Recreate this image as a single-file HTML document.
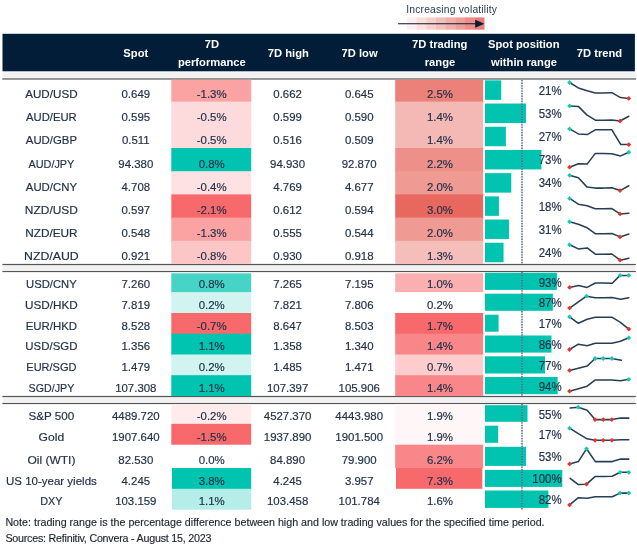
<!DOCTYPE html>
<html lang="en">
<head>
<meta charset="utf-8">
<title>FX 7D performance table</title>
<style>
html,body{margin:0;padding:0;background:#fff;}
body{width:637px;height:546px;overflow:hidden;}
svg{display:block;}
text{font-family:"Liberation Sans",sans-serif;}
.b{font-size:11.8px;fill:#22324a;stroke:#22324a;stroke-width:0.18px;}
.h{font-size:11.2px;font-weight:bold;fill:#fff;}
.lg{font-size:10.3px;fill:#2a3a4e;}
.f{font-size:10.7px;fill:#1c2430;stroke:#1c2430;stroke-width:0.15px;}
</style>
</head>
<body>
<svg width="637" height="546" viewBox="0 0 637 546">
<text x="406.20" y="12.90" text-anchor="start" class="lg" textLength="90.8" lengthAdjust="spacing">Increasing volatility</text>
<rect x="407.00" y="17.40" width="9.95" height="12.30" fill="#fdefef"/>
<rect x="416.65" y="17.40" width="9.95" height="12.30" fill="#fadfdd"/>
<rect x="426.30" y="17.40" width="9.95" height="12.30" fill="#f8cfcc"/>
<rect x="435.95" y="17.40" width="9.95" height="12.30" fill="#f6bebb"/>
<rect x="445.60" y="17.40" width="9.95" height="12.30" fill="#f3aeaa"/>
<rect x="455.25" y="17.40" width="9.95" height="12.30" fill="#f19e98"/>
<rect x="464.90" y="17.40" width="9.95" height="12.30" fill="#ee8d87"/>
<rect x="474.55" y="17.40" width="9.95" height="12.30" fill="#ec7d76"/>
<line x1="398" y1="23.7" x2="477" y2="23.7" stroke="#011d38" stroke-width="1.1"/>
<polygon points="475.2,19.7 484.3,23.7 475.2,27.8" fill="#011d38"/>
<rect x="2.50" y="33.80" width="632.40" height="37.50" fill="#011d38"/>
<rect x="2.50" y="72.30" width="633.10" height="5.30" fill="#f1f1f1"/>
<rect x="2.30" y="78.05" width="633.90" height="1.80" fill="#8a8a8a"/>
<text x="135.80" y="57.10" text-anchor="middle" class="h">Spot</text>
<text x="212.00" y="48.40" text-anchor="middle" class="h">7D</text>
<text x="211.80" y="66.10" text-anchor="middle" class="h">performance</text>
<text x="288.30" y="57.10" text-anchor="middle" class="h">7D high</text>
<text x="359.60" y="57.10" text-anchor="middle" class="h">7D low</text>
<text x="439.70" y="48.40" text-anchor="middle" class="h">7D trading</text>
<text x="440.00" y="66.10" text-anchor="middle" class="h">range</text>
<text x="523.80" y="48.40" text-anchor="middle" class="h">Spot position</text>
<text x="524.00" y="66.10" text-anchor="middle" class="h">within range</text>
<text x="599.50" y="57.10" text-anchor="middle" class="h">7D trend</text>
<rect x="2.60" y="265.10" width="632.40" height="5.00" fill="#f2f2f2"/>
<rect x="2.40" y="263.90" width="633.40" height="1.20" fill="#555555"/>
<rect x="2.40" y="270.90" width="633.40" height="1.20" fill="#555555"/>
<rect x="2.60" y="397.10" width="632.40" height="5.00" fill="#f2f2f2"/>
<rect x="2.40" y="395.90" width="633.40" height="1.20" fill="#555555"/>
<rect x="2.40" y="402.90" width="633.40" height="1.20" fill="#555555"/>
<rect x="171.30" y="79.80" width="79.90" height="22.80" fill="#fba2a3"/>
<rect x="395.20" y="79.80" width="88.00" height="22.80" fill="#ec817a"/>
<rect x="485.00" y="80.35" width="16.23" height="19.50" fill="#00c4b0"/>
<text transform="translate(51.40 98.00) scale(0.987 1)" text-anchor="middle" class="b">AUD/USD</text>
<text transform="translate(135.80 98.00) scale(0.97 1)" text-anchor="middle" class="b">0.649</text>
<text transform="translate(211.70 98.00) scale(0.97 1)" text-anchor="middle" class="b">-1.3%</text>
<text transform="translate(287.60 98.00) scale(0.97 1)" text-anchor="middle" class="b">0.662</text>
<text transform="translate(359.20 98.00) scale(0.97 1)" text-anchor="middle" class="b">0.645</text>
<text transform="translate(440.00 98.00) scale(0.97 1)" text-anchor="middle" class="b">2.5%</text>
<text transform="translate(561.60 94.60) scale(0.97 1.16)" text-anchor="end" class="b">21%</text>
<rect x="171.30" y="101.60" width="79.90" height="24.20" fill="#fddbdc"/>
<rect x="395.20" y="101.60" width="88.00" height="24.20" fill="#f4b9b4"/>
<rect x="485.00" y="103.55" width="40.97" height="19.50" fill="#00c4b0"/>
<text transform="translate(51.40 121.20) scale(0.956 1)" text-anchor="middle" class="b">AUD/EUR</text>
<text transform="translate(135.80 121.20) scale(0.97 1)" text-anchor="middle" class="b">0.595</text>
<text transform="translate(211.70 121.20) scale(0.97 1)" text-anchor="middle" class="b">-0.5%</text>
<text transform="translate(287.60 121.20) scale(0.97 1)" text-anchor="middle" class="b">0.599</text>
<text transform="translate(359.20 121.20) scale(0.97 1)" text-anchor="middle" class="b">0.590</text>
<text transform="translate(440.00 121.20) scale(0.97 1)" text-anchor="middle" class="b">1.4%</text>
<text transform="translate(561.60 117.80) scale(0.97 1.16)" text-anchor="end" class="b">53%</text>
<rect x="171.30" y="124.80" width="79.90" height="24.20" fill="#fddbdc"/>
<rect x="395.20" y="124.80" width="88.00" height="24.20" fill="#f4b9b4"/>
<rect x="485.00" y="126.75" width="20.87" height="19.50" fill="#00c4b0"/>
<text transform="translate(51.40 144.40) scale(0.965 1)" text-anchor="middle" class="b">AUD/GBP</text>
<text transform="translate(135.80 144.40) scale(0.97 1)" text-anchor="middle" class="b">0.511</text>
<text transform="translate(211.70 144.40) scale(0.97 1)" text-anchor="middle" class="b">-0.5%</text>
<text transform="translate(287.60 144.40) scale(0.97 1)" text-anchor="middle" class="b">0.516</text>
<text transform="translate(359.20 144.40) scale(0.97 1)" text-anchor="middle" class="b">0.509</text>
<text transform="translate(440.00 144.40) scale(0.97 1)" text-anchor="middle" class="b">1.4%</text>
<text transform="translate(561.60 141.00) scale(0.97 1.16)" text-anchor="end" class="b">27%</text>
<rect x="171.30" y="148.00" width="79.90" height="24.20" fill="#00c4b0"/>
<rect x="395.20" y="148.00" width="88.00" height="24.20" fill="#ee908a"/>
<rect x="485.00" y="149.95" width="56.43" height="19.50" fill="#00c4b0"/>
<text transform="translate(51.40 167.60) scale(0.923 1)" text-anchor="middle" class="b">AUD/JPY</text>
<text transform="translate(135.80 167.60) scale(0.97 1)" text-anchor="middle" class="b">94.380</text>
<text transform="translate(211.70 167.60) scale(0.97 1)" text-anchor="middle" class="b">0.8%</text>
<text transform="translate(287.60 167.60) scale(0.97 1)" text-anchor="middle" class="b">94.930</text>
<text transform="translate(359.20 167.60) scale(0.97 1)" text-anchor="middle" class="b">92.870</text>
<text transform="translate(440.00 167.60) scale(0.97 1)" text-anchor="middle" class="b">2.2%</text>
<text transform="translate(561.60 164.20) scale(0.97 1.16)" text-anchor="end" class="b">73%</text>
<rect x="171.30" y="171.20" width="79.90" height="24.20" fill="#fee2e3"/>
<rect x="395.20" y="171.20" width="88.00" height="24.20" fill="#f09a94"/>
<rect x="485.00" y="173.15" width="26.28" height="19.50" fill="#00c4b0"/>
<text transform="translate(51.40 190.80) scale(0.965 1)" text-anchor="middle" class="b">AUD/CNY</text>
<text transform="translate(135.80 190.80) scale(0.97 1)" text-anchor="middle" class="b">4.708</text>
<text transform="translate(211.70 190.80) scale(0.97 1)" text-anchor="middle" class="b">-0.4%</text>
<text transform="translate(287.60 190.80) scale(0.97 1)" text-anchor="middle" class="b">4.769</text>
<text transform="translate(359.20 190.80) scale(0.97 1)" text-anchor="middle" class="b">4.677</text>
<text transform="translate(440.00 190.80) scale(0.97 1)" text-anchor="middle" class="b">2.0%</text>
<text transform="translate(561.60 187.40) scale(0.97 1.16)" text-anchor="end" class="b">34%</text>
<rect x="171.30" y="194.40" width="79.90" height="24.20" fill="#f8696b"/>
<rect x="395.20" y="194.40" width="88.00" height="24.20" fill="#e8685f"/>
<rect x="485.00" y="196.35" width="13.91" height="19.50" fill="#00c4b0"/>
<text transform="translate(51.40 214.00) scale(1.013 1)" text-anchor="middle" class="b">NZD/USD</text>
<text transform="translate(135.80 214.00) scale(0.97 1)" text-anchor="middle" class="b">0.597</text>
<text transform="translate(211.70 214.00) scale(0.97 1)" text-anchor="middle" class="b">-2.1%</text>
<text transform="translate(287.60 214.00) scale(0.97 1)" text-anchor="middle" class="b">0.612</text>
<text transform="translate(359.20 214.00) scale(0.97 1)" text-anchor="middle" class="b">0.594</text>
<text transform="translate(440.00 214.00) scale(0.97 1)" text-anchor="middle" class="b">3.0%</text>
<text transform="translate(561.60 210.60) scale(0.97 1.16)" text-anchor="end" class="b">18%</text>
<rect x="171.30" y="217.60" width="79.90" height="24.20" fill="#fba2a3"/>
<rect x="395.20" y="217.60" width="88.00" height="24.20" fill="#f09a94"/>
<rect x="485.00" y="219.55" width="23.96" height="19.50" fill="#00c4b0"/>
<text transform="translate(51.40 237.20) scale(0.999 1)" text-anchor="middle" class="b">NZD/EUR</text>
<text transform="translate(135.80 237.20) scale(0.97 1)" text-anchor="middle" class="b">0.548</text>
<text transform="translate(211.70 237.20) scale(0.97 1)" text-anchor="middle" class="b">-1.3%</text>
<text transform="translate(287.60 237.20) scale(0.97 1)" text-anchor="middle" class="b">0.555</text>
<text transform="translate(359.20 237.20) scale(0.97 1)" text-anchor="middle" class="b">0.544</text>
<text transform="translate(440.00 237.20) scale(0.97 1)" text-anchor="middle" class="b">2.0%</text>
<text transform="translate(561.60 233.80) scale(0.97 1.16)" text-anchor="end" class="b">31%</text>
<rect x="171.30" y="240.80" width="79.90" height="23.20" fill="#fcc6c7"/>
<rect x="395.20" y="240.80" width="88.00" height="23.20" fill="#f5beba"/>
<rect x="485.00" y="242.75" width="18.55" height="19.50" fill="#00c4b0"/>
<text transform="translate(51.40 260.40) scale(1.042 1)" text-anchor="middle" class="b">NZD/AUD</text>
<text transform="translate(135.80 260.40) scale(0.97 1)" text-anchor="middle" class="b">0.921</text>
<text transform="translate(211.70 260.40) scale(0.97 1)" text-anchor="middle" class="b">-0.8%</text>
<text transform="translate(287.60 260.40) scale(0.97 1)" text-anchor="middle" class="b">0.930</text>
<text transform="translate(359.20 260.40) scale(0.97 1)" text-anchor="middle" class="b">0.918</text>
<text transform="translate(440.00 260.40) scale(0.97 1)" text-anchor="middle" class="b">1.3%</text>
<text transform="translate(561.60 257.00) scale(0.97 1.16)" text-anchor="end" class="b">24%</text>
<rect x="171.30" y="273.30" width="79.90" height="19.80" fill="#46d4c6"/>
<rect x="395.20" y="273.30" width="88.00" height="18.80" fill="#fbafb0"/>
<rect x="485.00" y="272.80" width="71.89" height="17.10" fill="#00c4b0"/>
<text transform="translate(51.40 287.90) scale(0.955 1)" text-anchor="middle" class="b">USD/CNY</text>
<text transform="translate(135.80 287.90) scale(0.97 1)" text-anchor="middle" class="b">7.260</text>
<text transform="translate(211.70 287.90) scale(0.97 1)" text-anchor="middle" class="b">0.8%</text>
<text transform="translate(287.60 287.90) scale(0.97 1)" text-anchor="middle" class="b">7.265</text>
<text transform="translate(359.20 287.90) scale(0.97 1)" text-anchor="middle" class="b">7.195</text>
<text transform="translate(440.00 287.90) scale(0.97 1)" text-anchor="middle" class="b">1.0%</text>
<text transform="translate(561.60 286.50) scale(0.97 1.1)" text-anchor="end" class="b">93%</text>
<rect x="171.30" y="292.10" width="79.90" height="21.90" fill="#d1f4f1"/>
<rect x="485.00" y="293.70" width="67.87" height="17.10" fill="#00c4b0"/>
<text transform="translate(51.40 308.70) scale(0.995 1)" text-anchor="middle" class="b">USD/HKD</text>
<text transform="translate(135.80 308.70) scale(0.97 1)" text-anchor="middle" class="b">7.819</text>
<text transform="translate(211.70 308.70) scale(0.97 1)" text-anchor="middle" class="b">0.2%</text>
<text transform="translate(287.60 308.70) scale(0.97 1)" text-anchor="middle" class="b">7.821</text>
<text transform="translate(359.20 308.70) scale(0.97 1)" text-anchor="middle" class="b">7.806</text>
<text transform="translate(440.00 308.70) scale(0.97 1)" text-anchor="middle" class="b">0.2%</text>
<text transform="translate(561.60 307.30) scale(0.97 1.1)" text-anchor="end" class="b">87%</text>
<rect x="171.30" y="313.00" width="79.90" height="21.70" fill="#f8696b"/>
<rect x="395.20" y="313.00" width="88.00" height="21.70" fill="#f8696b"/>
<rect x="485.00" y="314.70" width="13.60" height="17.00" fill="#00c4b0"/>
<text transform="translate(51.40 329.50) scale(0.97 1)" text-anchor="middle" class="b">EUR/HKD</text>
<text transform="translate(135.80 329.50) scale(0.97 1)" text-anchor="middle" class="b">8.528</text>
<text transform="translate(211.70 329.50) scale(0.97 1)" text-anchor="middle" class="b">-0.7%</text>
<text transform="translate(287.60 329.50) scale(0.97 1)" text-anchor="middle" class="b">8.647</text>
<text transform="translate(359.20 329.50) scale(0.97 1)" text-anchor="middle" class="b">8.503</text>
<text transform="translate(440.00 329.50) scale(0.97 1)" text-anchor="middle" class="b">1.7%</text>
<text transform="translate(561.60 328.10) scale(0.97 1.1)" text-anchor="end" class="b">17%</text>
<rect x="171.30" y="333.70" width="79.90" height="21.80" fill="#00c4b0"/>
<rect x="395.20" y="333.70" width="88.00" height="21.80" fill="#f98789"/>
<rect x="485.00" y="335.50" width="66.48" height="17.10" fill="#00c4b0"/>
<text transform="translate(51.40 350.30) scale(0.97 1)" text-anchor="middle" class="b">USD/SGD</text>
<text transform="translate(135.80 350.30) scale(0.97 1)" text-anchor="middle" class="b">1.356</text>
<text transform="translate(211.70 350.30) scale(0.97 1)" text-anchor="middle" class="b">1.1%</text>
<text transform="translate(287.60 350.30) scale(0.97 1)" text-anchor="middle" class="b">1.358</text>
<text transform="translate(359.20 350.30) scale(0.97 1)" text-anchor="middle" class="b">1.340</text>
<text transform="translate(440.00 350.30) scale(0.97 1)" text-anchor="middle" class="b">1.4%</text>
<text transform="translate(561.60 348.90) scale(0.97 1.1)" text-anchor="end" class="b">86%</text>
<rect x="171.30" y="354.50" width="79.90" height="21.70" fill="#d1f4f1"/>
<rect x="395.20" y="354.50" width="88.00" height="21.70" fill="#fdcdce"/>
<rect x="485.00" y="356.30" width="59.98" height="17.20" fill="#00c4b0"/>
<text transform="translate(51.40 371.00) scale(0.934 1)" text-anchor="middle" class="b">EUR/SGD</text>
<text transform="translate(135.80 371.00) scale(0.97 1)" text-anchor="middle" class="b">1.479</text>
<text transform="translate(211.70 371.00) scale(0.97 1)" text-anchor="middle" class="b">0.2%</text>
<text transform="translate(287.60 371.00) scale(0.97 1)" text-anchor="middle" class="b">1.485</text>
<text transform="translate(359.20 371.00) scale(0.97 1)" text-anchor="middle" class="b">1.471</text>
<text transform="translate(440.00 371.00) scale(0.97 1)" text-anchor="middle" class="b">0.7%</text>
<text transform="translate(561.60 369.60) scale(0.97 1.1)" text-anchor="end" class="b">77%</text>
<rect x="171.30" y="375.20" width="79.90" height="20.90" fill="#00c4b0"/>
<rect x="395.20" y="375.20" width="88.00" height="20.90" fill="#f98789"/>
<rect x="485.00" y="377.00" width="72.66" height="17.20" fill="#00c4b0"/>
<text transform="translate(51.40 391.90) scale(0.906 1)" text-anchor="middle" class="b">SGD/JPY</text>
<text transform="translate(135.80 391.90) scale(0.97 1)" text-anchor="middle" class="b">107.308</text>
<text transform="translate(211.70 391.90) scale(0.97 1)" text-anchor="middle" class="b">1.1%</text>
<text transform="translate(287.60 391.90) scale(0.97 1)" text-anchor="middle" class="b">107.397</text>
<text transform="translate(359.20 391.90) scale(0.97 1)" text-anchor="middle" class="b">105.906</text>
<text transform="translate(440.00 391.90) scale(0.97 1)" text-anchor="middle" class="b">1.4%</text>
<text transform="translate(561.60 390.50) scale(0.97 1.1)" text-anchor="end" class="b">94%</text>
<rect x="171.30" y="404.10" width="79.90" height="20.75" fill="#feebeb"/>
<rect x="395.20" y="404.10" width="88.00" height="20.75" fill="#fff7f7"/>
<rect x="485.00" y="405.20" width="42.51" height="16.60" fill="#00c4b0"/>
<text transform="translate(51.40 419.80) scale(0.986 1)" text-anchor="middle" class="b">S&amp;P 500</text>
<text transform="translate(135.80 419.80) scale(0.97 1)" text-anchor="middle" class="b">4489.720</text>
<text transform="translate(211.70 419.80) scale(0.97 1)" text-anchor="middle" class="b">-0.2%</text>
<text transform="translate(287.60 419.80) scale(0.97 1)" text-anchor="middle" class="b">4527.370</text>
<text transform="translate(359.20 419.80) scale(0.97 1)" text-anchor="middle" class="b">4443.980</text>
<text transform="translate(440.00 419.80) scale(0.97 1)" text-anchor="middle" class="b">1.9%</text>
<text transform="translate(561.60 418.60) scale(0.97 1.1)" text-anchor="end" class="b">55%</text>
<rect x="171.30" y="423.85" width="79.90" height="20.85" fill="#f8696b"/>
<rect x="395.20" y="423.85" width="88.00" height="21.85" fill="#fff7f7"/>
<rect x="485.00" y="425.70" width="13.14" height="17.10" fill="#00c4b0"/>
<text transform="translate(51.40 441.00) scale(1.028 1)" text-anchor="middle" class="b">Gold</text>
<text transform="translate(135.80 441.00) scale(0.97 1)" text-anchor="middle" class="b">1907.640</text>
<text transform="translate(211.70 441.00) scale(0.97 1)" text-anchor="middle" class="b">-1.5%</text>
<text transform="translate(287.60 441.00) scale(0.97 1)" text-anchor="middle" class="b">1937.890</text>
<text transform="translate(359.20 441.00) scale(0.97 1)" text-anchor="middle" class="b">1901.500</text>
<text transform="translate(440.00 441.00) scale(0.97 1)" text-anchor="middle" class="b">1.9%</text>
<text transform="translate(561.60 438.80) scale(0.97 1.1)" text-anchor="end" class="b">17%</text>
<rect x="395.20" y="444.70" width="88.00" height="23.30" fill="#f98688"/>
<rect x="485.00" y="446.80" width="40.97" height="19.10" fill="#00c4b0"/>
<text transform="translate(51.40 463.70) scale(1.017 1)" text-anchor="middle" class="b">Oil (WTI)</text>
<text transform="translate(135.80 463.70) scale(0.97 1)" text-anchor="middle" class="b">82.530</text>
<text transform="translate(211.70 463.70) scale(0.97 1)" text-anchor="middle" class="b">0.0%</text>
<text transform="translate(287.60 463.70) scale(0.97 1)" text-anchor="middle" class="b">84.890</text>
<text transform="translate(359.20 463.70) scale(0.97 1)" text-anchor="middle" class="b">79.900</text>
<text transform="translate(440.00 463.70) scale(0.97 1)" text-anchor="middle" class="b">6.2%</text>
<text transform="translate(561.60 460.70) scale(0.97 1.1)" text-anchor="end" class="b">53%</text>
<rect x="172.00" y="468.00" width="79.20" height="21.80" fill="#00c4b0"/>
<rect x="396.00" y="468.00" width="86.30" height="20.80" fill="#f8696b"/>
<rect x="485.00" y="469.90" width="77.30" height="17.00" fill="#00c4b0"/>
<text transform="translate(51.40 484.60) scale(0.976 1)" text-anchor="middle" class="b">US 10-year yields</text>
<text transform="translate(135.80 484.60) scale(0.97 1)" text-anchor="middle" class="b">4.245</text>
<text transform="translate(211.70 484.60) scale(0.97 1)" text-anchor="middle" class="b">3.8%</text>
<text transform="translate(287.60 484.60) scale(0.97 1)" text-anchor="middle" class="b">4.245</text>
<text transform="translate(359.20 484.60) scale(0.97 1)" text-anchor="middle" class="b">3.957</text>
<text transform="translate(440.00 484.60) scale(0.97 1)" text-anchor="middle" class="b">7.3%</text>
<text transform="translate(561.60 483.20) scale(0.97 1.1)" text-anchor="end" class="b">100%</text>
<rect x="172.00" y="488.80" width="79.20" height="20.90" fill="#b5eee8"/>
<rect x="485.00" y="490.50" width="63.39" height="17.40" fill="#00c4b0"/>
<text transform="translate(51.40 505.20) scale(0.921 1)" text-anchor="middle" class="b">DXY</text>
<text transform="translate(135.80 505.20) scale(0.97 1)" text-anchor="middle" class="b">103.159</text>
<text transform="translate(211.70 505.20) scale(0.97 1)" text-anchor="middle" class="b">1.1%</text>
<text transform="translate(287.60 505.20) scale(0.97 1)" text-anchor="middle" class="b">103.458</text>
<text transform="translate(359.20 505.20) scale(0.97 1)" text-anchor="middle" class="b">101.784</text>
<text transform="translate(440.00 505.20) scale(0.97 1)" text-anchor="middle" class="b">1.6%</text>
<text transform="translate(561.60 503.80) scale(0.97 1.1)" text-anchor="end" class="b">82%</text>
<line x1="522.0" y1="80.0" x2="522.0" y2="263.9" stroke="#8fa3b5" stroke-opacity="0.3" stroke-width="1.8"/>
<line x1="522.0" y1="80.0" x2="522.0" y2="263.9" stroke="#465b73" stroke-width="1.25" stroke-dasharray="1.3 1.3"/>
<line x1="522.0" y1="272.1" x2="522.0" y2="395.9" stroke="#8fa3b5" stroke-opacity="0.3" stroke-width="1.8"/>
<line x1="522.0" y1="272.1" x2="522.0" y2="395.9" stroke="#465b73" stroke-width="1.25" stroke-dasharray="1.3 1.3"/>
<line x1="522.0" y1="404.1" x2="522.0" y2="509.7" stroke="#8fa3b5" stroke-opacity="0.3" stroke-width="1.8"/>
<line x1="522.0" y1="404.1" x2="522.0" y2="509.7" stroke="#465b73" stroke-width="1.25" stroke-dasharray="1.3 1.3"/>
<polyline fill="none" stroke="#263f57" stroke-width="1.55" stroke-linejoin="round" stroke-linecap="round" points="569.56,82.50 578.35,87.90 587.14,90.80 595.30,93.00 603.47,93.00 611.88,92.70 620.42,97.60 628.84,98.40"/>
<polygon points="567.16,82.50 569.56,80.10 571.96,82.50 569.56,84.90" fill="#14c8b4"/>
<polygon points="626.44,98.40 628.84,96.00 631.24,98.40 628.84,100.80" fill="#e3342a"/>
<polyline fill="none" stroke="#263f57" stroke-width="1.55" stroke-linejoin="round" stroke-linecap="round" points="569.56,105.90 578.35,106.40 586.76,114.90 595.30,120.20 603.47,120.20 611.88,120.00 620.05,121.00 628.84,116.20"/>
<polygon points="567.16,105.90 569.56,103.50 571.96,105.90 569.56,108.30" fill="#14c8b4"/>
<polygon points="617.65,121.00 620.05,118.60 622.45,121.00 620.05,123.40" fill="#e3342a"/>
<polyline fill="none" stroke="#263f57" stroke-width="1.55" stroke-linejoin="round" stroke-linecap="round" points="569.56,128.90 578.35,133.90 587.14,134.60 595.30,129.80 603.47,129.80 611.88,129.80 620.67,144.40 628.84,144.60"/>
<polygon points="567.16,128.90 569.56,126.50 571.96,128.90 569.56,131.30" fill="#14c8b4"/>
<polygon points="626.44,144.60 628.84,142.20 631.24,144.60 628.84,147.00" fill="#e3342a"/>
<polyline fill="none" stroke="#263f57" stroke-width="1.55" stroke-linejoin="round" stroke-linecap="round" points="569.56,167.20 578.35,163.70 587.14,164.10 595.30,153.40 603.47,153.40 611.88,153.70 620.67,155.90 628.84,152.20"/>
<polygon points="626.44,152.20 628.84,149.80 631.24,152.20 628.84,154.60" fill="#14c8b4"/>
<polygon points="567.16,167.20 569.56,164.80 571.96,167.20 569.56,169.60" fill="#e3342a"/>
<polyline fill="none" stroke="#263f57" stroke-width="1.55" stroke-linejoin="round" stroke-linecap="round" points="569.56,175.30 578.35,177.80 587.14,187.10 595.30,188.10 603.47,188.10 611.88,187.80 620.05,190.60 628.84,185.80"/>
<polygon points="567.16,175.30 569.56,172.90 571.96,175.30 569.56,177.70" fill="#14c8b4"/>
<polygon points="617.65,190.60 620.05,188.20 622.45,190.60 620.05,193.00" fill="#e3342a"/>
<polyline fill="none" stroke="#263f57" stroke-width="1.55" stroke-linejoin="round" stroke-linecap="round" points="569.56,198.40 578.35,204.20 587.14,205.70 595.30,208.80 603.47,208.80 611.88,208.60 620.05,213.90 628.84,213.20"/>
<polygon points="567.16,198.40 569.56,196.00 571.96,198.40 569.56,200.80" fill="#14c8b4"/>
<polygon points="617.65,213.90 620.05,211.50 622.45,213.90 620.05,216.30" fill="#e3342a"/>
<polyline fill="none" stroke="#263f57" stroke-width="1.55" stroke-linejoin="round" stroke-linecap="round" points="569.56,221.80 578.35,224.30 587.14,227.80 595.30,233.70 603.47,233.70 611.88,233.50 620.05,236.90 628.84,234.10"/>
<polygon points="567.16,221.80 569.56,219.40 571.96,221.80 569.56,224.20" fill="#14c8b4"/>
<polygon points="617.65,236.90 620.05,234.50 622.45,236.90 620.05,239.30" fill="#e3342a"/>
<polyline fill="none" stroke="#263f57" stroke-width="1.55" stroke-linejoin="round" stroke-linecap="round" points="569.56,244.80 578.35,248.90 587.14,247.90 595.30,254.20 603.47,254.20 611.88,254.00 620.05,260.20 628.84,258.20"/>
<polygon points="567.16,244.80 569.56,242.40 571.96,244.80 569.56,247.20" fill="#14c8b4"/>
<polygon points="617.65,260.20 620.05,257.80 622.45,260.20 620.05,262.60" fill="#e3342a"/>
<polyline fill="none" stroke="#263f57" stroke-width="1.55" stroke-linejoin="round" stroke-linecap="round" points="569.56,287.40 578.35,285.50 587.14,287.40 595.30,283.00 603.47,283.00 612.26,283.20 620.05,275.40 628.84,275.40"/>
<polygon points="617.65,275.40 620.05,273.00 622.45,275.40 620.05,277.80" fill="#14c8b4"/>
<polygon points="626.44,275.40 628.84,273.00 631.24,275.40 628.84,277.80" fill="#14c8b4"/>
<polygon points="567.16,287.40 569.56,285.00 571.96,287.40 569.56,289.80" fill="#e3342a"/>
<polyline fill="none" stroke="#263f57" stroke-width="1.55" stroke-linejoin="round" stroke-linecap="round" points="569.56,308.10 578.10,302.10 586.51,296.20 595.30,297.70 603.47,297.70 611.88,297.40 620.67,299.30 628.84,297.70"/>
<polygon points="584.11,296.20 586.51,293.80 588.91,296.20 586.51,298.60" fill="#14c8b4"/>
<polygon points="567.16,308.10 569.56,305.70 571.96,308.10 569.56,310.50" fill="#e3342a"/>
<polyline fill="none" stroke="#263f57" stroke-width="1.55" stroke-linejoin="round" stroke-linecap="round" points="569.56,316.80 578.35,323.30 587.14,319.30 595.30,317.20 603.47,317.20 611.88,317.20 620.42,322.40 628.84,329.10"/>
<polygon points="567.16,316.80 569.56,314.40 571.96,316.80 569.56,319.20" fill="#14c8b4"/>
<polygon points="626.44,329.10 628.84,326.70 631.24,329.10 628.84,331.50" fill="#e3342a"/>
<polyline fill="none" stroke="#263f57" stroke-width="1.55" stroke-linejoin="round" stroke-linecap="round" points="569.56,349.50 578.35,344.20 587.14,345.70 595.30,343.20 603.47,343.20 611.88,343.20 620.42,341.30 628.84,337.80"/>
<polygon points="626.44,337.80 628.84,335.40 631.24,337.80 628.84,340.20" fill="#14c8b4"/>
<polygon points="567.16,349.50 569.56,347.10 571.96,349.50 569.56,351.90" fill="#e3342a"/>
<polyline fill="none" stroke="#263f57" stroke-width="1.55" stroke-linejoin="round" stroke-linecap="round" points="569.56,370.40 578.35,368.20 587.14,366.10 595.05,358.50 603.22,358.50 611.88,358.50 621.30,360.30"/>
<polygon points="592.65,358.50 595.05,356.10 597.45,358.50 595.05,360.90" fill="#14c8b4"/>
<polygon points="600.82,358.50 603.22,356.10 605.62,358.50 603.22,360.90" fill="#14c8b4"/>
<polygon points="609.48,358.50 611.88,356.10 614.28,358.50 611.88,360.90" fill="#14c8b4"/>
<polygon points="567.16,370.40 569.56,368.00 571.96,370.40 569.56,372.80" fill="#e3342a"/>
<polyline fill="none" stroke="#263f57" stroke-width="1.55" stroke-linejoin="round" stroke-linecap="round" points="569.56,391.20 578.35,388.70 587.14,386.20 595.30,379.90 603.47,379.90 611.88,379.90 620.67,380.80 628.84,379.30"/>
<polygon points="626.44,379.30 628.84,376.90 631.24,379.30 628.84,381.70" fill="#14c8b4"/>
<polygon points="567.16,391.20 569.56,388.80 571.96,391.20 569.56,393.60" fill="#e3342a"/>
<polyline fill="none" stroke="#263f57" stroke-width="1.55" stroke-linejoin="round" stroke-linecap="round" points="570.19,408.00 578.35,407.20 587.14,410.30 595.05,419.60 603.22,419.60 611.88,419.60 620.67,418.10 628.84,418.10"/>
<polygon points="575.95,407.20 578.35,404.80 580.75,407.20 578.35,409.60" fill="#14c8b4"/>
<polygon points="592.65,419.60 595.05,417.20 597.45,419.60 595.05,422.00" fill="#e3342a"/>
<polygon points="600.82,419.60 603.22,417.20 605.62,419.60 603.22,422.00" fill="#e3342a"/>
<polygon points="609.48,419.60 611.88,417.20 614.28,419.60 611.88,422.00" fill="#e3342a"/>
<polyline fill="none" stroke="#263f57" stroke-width="1.55" stroke-linejoin="round" stroke-linecap="round" points="569.56,428.20 578.35,433.60 587.14,438.80 595.05,440.30 603.22,440.30 611.88,440.30 620.67,439.70 628.84,439.70"/>
<polygon points="567.16,428.20 569.56,425.80 571.96,428.20 569.56,430.60" fill="#14c8b4"/>
<polygon points="592.65,440.30 595.05,437.90 597.45,440.30 595.05,442.70" fill="#e3342a"/>
<polygon points="600.82,440.30 603.22,437.90 605.62,440.30 603.22,442.70" fill="#e3342a"/>
<polygon points="609.48,440.30 611.88,437.90 614.28,440.30 611.88,442.70" fill="#e3342a"/>
<polyline fill="none" stroke="#263f57" stroke-width="1.55" stroke-linejoin="round" stroke-linecap="round" points="569.56,463.90 578.35,461.60 586.51,448.80 595.30,461.60 603.47,461.60 612.26,461.60 620.67,459.10 628.84,459.10"/>
<polygon points="584.11,448.80 586.51,446.40 588.91,448.80 586.51,451.20" fill="#14c8b4"/>
<polygon points="567.16,463.90 569.56,461.50 571.96,463.90 569.56,466.30" fill="#e3342a"/>
<polyline fill="none" stroke="#263f57" stroke-width="1.55" stroke-linejoin="round" stroke-linecap="round" points="570.19,478.30 578.35,484.60 586.51,484.20 595.30,476.40 603.47,476.40 612.26,476.20 620.05,472.30 628.84,472.30"/>
<polygon points="617.65,472.30 620.05,469.90 622.45,472.30 620.05,474.70" fill="#14c8b4"/>
<polygon points="626.44,472.30 628.84,469.90 631.24,472.30 628.84,474.70" fill="#14c8b4"/>
<polygon points="584.11,484.20 586.51,481.80 588.91,484.20 586.51,486.60" fill="#e3342a"/>
<polyline fill="none" stroke="#263f57" stroke-width="1.55" stroke-linejoin="round" stroke-linecap="round" points="569.56,504.90 578.35,497.70 587.14,498.30 595.30,496.80 603.47,496.80 612.26,496.80 620.05,493.10 628.84,493.10"/>
<polygon points="617.65,493.10 620.05,490.70 622.45,493.10 620.05,495.50" fill="#14c8b4"/>
<polygon points="626.44,493.10 628.84,490.70 631.24,493.10 628.84,495.50" fill="#14c8b4"/>
<polygon points="567.16,504.90 569.56,502.50 571.96,504.90 569.56,507.30" fill="#e3342a"/>
<text x="5.40" y="526.40" text-anchor="start" class="f" textLength="539.2" lengthAdjust="spacing">Note: trading range is the percentage difference between high and low trading values for the specified time period.</text>
<text x="5.40" y="541.80" text-anchor="start" class="f" textLength="206" lengthAdjust="spacing">Sources: Refinitiv, Convera - August 15, 2023</text>
</svg>
</body>
</html>
